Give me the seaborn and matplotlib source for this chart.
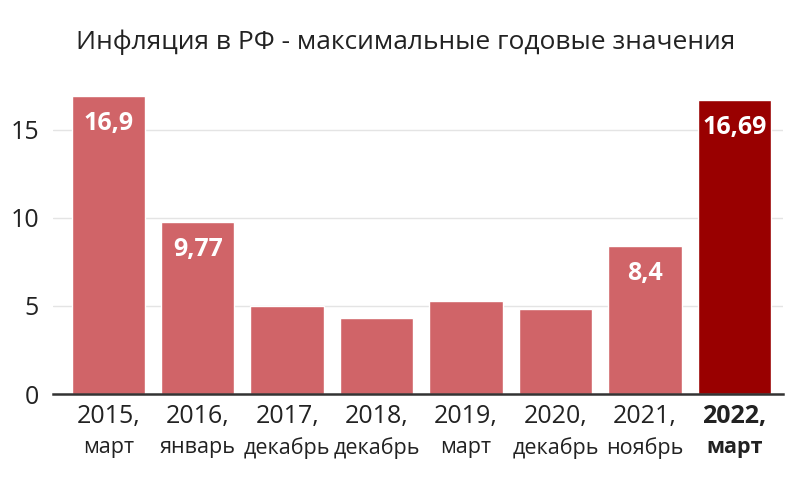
import matplotlib
matplotlib.use("Agg")
import matplotlib.pyplot as plt
import matplotlib.transforms as mtransforms
import seaborn as sns
import pandas as pd

years = ["2015,", "2016,", "2017,", "2018,", "2019,", "2020,", "2021,", "2022,"]
months = ["март", "январь", "декабрь", "декабрь", "март", "декабрь", "ноябрь", "март"]
values = [16.9, 9.77, 5.0, 4.3, 5.3, 4.85, 8.4, 16.69]
labels = ["16,9", "9,77", "", "", "", "", "8,4", "16,69"]
title = "Инфляция в РФ - максимальные годовые значения"

colors = ["#d06468"] * 7 + ["#990000"]

sns.set_theme(style="white")
plt.rcParams["font.family"] = ["Open Sans", "DejaVu Sans"]

df = pd.DataFrame({"cat": [y + m for y, m in zip(years, months)], "val": values})

fig = plt.figure(figsize=(8, 4.8), dpi=100)
ax = fig.add_axes([0.066, 0.179, 0.913, 0.635])

sns.barplot(data=df, x="cat", y="val", hue="cat", palette=colors, legend=False,
            width=0.82, saturation=1, ax=ax, zorder=3)

ax.set_xlim(-0.62, 7.545)
ax.set_ylim(0, 17.3)
ax.set_yticks([0, 5, 10, 15])
ax.set_yticklabels(["0", "5", "10", "15"], fontsize=18, color="#222222")
ax.yaxis.grid(True, color="#e4e4e4", linewidth=1, zorder=0)
ax.tick_params(axis="y", length=0, pad=10)
ax.set_xlabel("")
ax.set_ylabel("")
for s in ["top", "right", "left"]:
    ax.spines[s].set_visible(False)
ax.spines["bottom"].set_color("#333333")
ax.spines["bottom"].set_linewidth(1.8)
ax.spines["bottom"].set_zorder(4)

ax.set_xticks(range(len(years)))
ax.set_xticklabels([])
ax.tick_params(axis="x", length=0)

trans = mtransforms.blended_transform_factory(ax.transData, fig.transFigure)
for i, (y, m) in enumerate(zip(years, months)):
    bold = i == len(years) - 1
    ax.text(i, 1 - 416 / 480, y, transform=trans, ha="center", va="center",
            fontsize=18, color="#222222", fontweight="bold" if bold else "normal")
    ax.text(i, 1 - 448 / 480, m, transform=trans, ha="center", va="center",
            fontsize=15.5, color="#222222", fontweight="bold" if bold else "normal")

for i, (v, lab) in enumerate(zip(values, labels)):
    if lab:
        ax.annotate(lab, (i, v), xytext=(0, -19.5), textcoords="offset points",
                    ha="center", va="center", fontsize=18, fontweight="bold",
                    color="white", zorder=5)

fig.text(0.507, 1 - 42 / 480, title, ha="center", va="center", fontsize=19,
         color="#222222")

fig.savefig("out.png", dpi=100)
